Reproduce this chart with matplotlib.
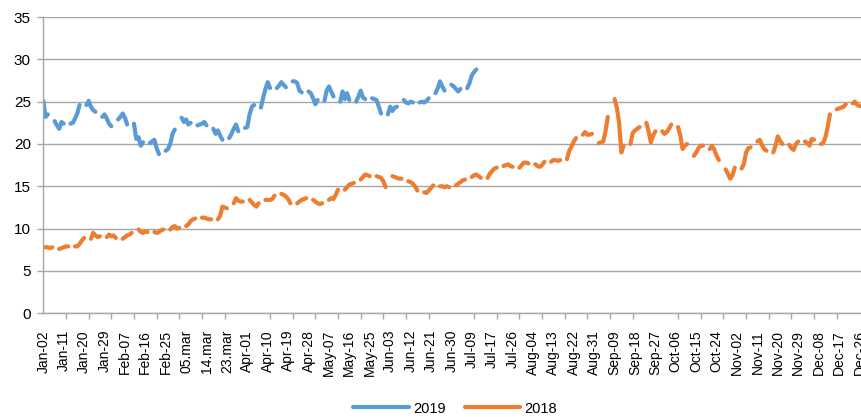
import numpy as np
import matplotlib.pyplot as plt

# x axis: one category per calendar day, a label every 9th category
tick_labels = ["Jan-02", "Jan-11", "Jan-20", "Jan-29", "Feb-07", "Feb-16", "Feb-25",
               "05.mar", "14.mar", "23.mar", "Apr-01", "Apr-10", "Apr-19", "Apr-28",
               "May-07", "May-16", "May-25", "Jun-03", "Jun-12", "Jun-21", "Jun-30",
               "Jul-09", "Jul-17", "Jul-26", "Aug-04", "Aug-13", "Aug-22", "Aug-31",
               "Sep-09", "Sep-18", "Sep-27", "Oct-06", "Oct-15", "Oct-24", "Nov-02",
               "Nov-11", "Nov-20", "Nov-29", "Dec-08", "Dec-17", "Dec-26"]

# weekday values, one row per week (weekends are blank in the source)
weeks_2019 = [
    [25.1, 23.2, 23.5],
    [22.7, 22.2, 21.8, 22.6, 22.4],
    [22.4, 22.5, 23.0, 23.6, 24.6],
    [24.6, 25.1, 24.4, 24.0, 23.8],
    [23.2, 23.5, 23.0, 22.4, 22.1],
    [22.9, 23.2, 23.6, 23.1, 22.3],
    [22.4, 20.6, 20.8, 19.8, 20.2],
    [20.1, 20.3, 20.5, 19.5, 18.8],
    [19.2, 19.4, 20.0, 21.2, 21.7],
    [23.1, 22.6, 22.9, 22.3, 22.5],
    [22.2, 22.3, 22.4, 22.6, 22.2],
    [21.8, 21.2, 21.6, 21.0, 20.5],
    [20.7, 21.2, 21.8, 22.3, 21.5],
    [21.9, 22.0, 23.5, 24.4, 24.6],
    [24.3, 25.5, 26.5, 27.3, 26.6],
    [26.6, 26.9, 27.3, 27.0, 26.7],
    [27.4, 27.4, 27.2, 26.3, 26.1],
    [26.2, 26.0, 25.4, 24.7, 25.2],
    [25.1, 26.3, 26.8, 26.2, 25.6],
    [25.0, 26.2, 25.3, 26.0, 25.2],
    [25.0, 25.6, 26.3, 25.5, 25.3],
    [25.4, 25.3, 25.2, 24.4, 23.6],
    [23.5, 24.4, 23.9, 24.3, 24.4],
    [25.2, 24.9, 24.8, 25.0, 24.9],
    [24.9, 25.0, 24.9, 25.1, 25.4],
    [26.0, 26.6, 27.4, 26.8, 26.3],
    [27.0, 26.8, 26.5, 26.2, 26.5],
    [26.6, 27.2, 28.1, 28.5, 28.8],
]
week_starts_2019 = [0] + [5 + 7 * k for k in range(len(weeks_2019) - 1)]

weeks_2018 = [
    [7.8, 7.8, 7.8, 7.7, 7.8],
    [7.6, 7.7, 7.8, 7.9, 7.9],
    [7.9, 7.9, 8.2, 8.6, 8.9],
    [8.8, 9.5, 9.2, 9.0, 9.1],
    [9.0, 9.3, 9.1, 9.2, 8.9],
    [8.8, 9.0, 9.2, 9.3, 9.5],
    [9.9, 9.6, 9.5, 9.7, 9.6],
    [9.6, 9.5, 9.6, 9.8, 9.9],
    [9.9, 10.2, 10.3, 10.0, 10.1],
    [10.3, 10.5, 10.9, 11.1, 11.2],
    [11.3, 11.3, 11.2, 11.1, 11.1],
    [11.1, 11.5, 12.6, 12.5, 12.4],
    [13.0, 13.6, 13.3, 13.2, 13.2],
    [13.4, 13.1, 12.8, 12.6, 13.0],
    [13.4, 13.4, 13.4, 13.5, 13.9],
    [14.1, 14.0, 13.8, 13.5, 13.0],
    [13.0, 13.2, 13.4, 13.5, 13.6],
    [13.4, 13.2, 13.0, 12.9, 13.0],
    [13.4, 13.6, 13.5, 14.0, 14.6],
    [14.6, 14.9, 15.2, 15.3, 15.4],
    [15.8, 16.1, 16.4, 16.3, 16.2],
    [16.2, 16.1, 16.0, 15.6, 14.9],
    [16.2, 16.1, 16.0, 15.9, 15.9],
    [15.6, 15.5, 15.3, 15.0, 14.5],
    [14.3, 14.2, 14.5, 14.8, 15.1],
    [15.0, 15.0, 14.9, 15.0, 14.9],
    [15.1, 15.3, 15.5, 15.7, 15.8],
    [16.1, 16.3, 16.4, 16.2, 16.0],
    [16.0, 16.5, 16.8, 17.1, 17.2],
    [17.4, 17.5, 17.6, 17.4, 17.3],
    [17.2, 17.5, 17.8, 17.8, 17.7],
    [17.6, 17.4, 17.3, 17.5, 17.9],
    [17.9, 18.1, 18.1, 18.0, 18.1],
    [18.2, 19.2, 19.7, 20.3, 20.7],
    [21.1, 21.4, 21.1, 21.1, 21.2],
    [20.1, 20.2, 20.3, 21.5, 23.2],
    [25.3, 24.3, 22.5, 19.0, 19.8],
    [20.0, 21.3, 21.6, 21.8, 22.0],
    [22.5, 21.5, 20.2, 21.0, 21.5],
    [21.5, 21.2, 21.4, 21.8, 22.3],
    [22.0, 21.0, 19.4, 19.8, 20.0],
    [18.6, 19.0, 19.5, 19.8, 19.8],
    [19.4, 19.8, 19.3, 18.6, 18.1],
    [17.0, 16.5, 15.9, 16.3, 17.2],
    [17.1, 17.6, 19.0, 19.5, 19.6],
    [20.3, 20.5, 19.9, 19.4, 19.2],
    [19.0, 19.8, 20.9, 20.4, 20.0],
    [19.9, 19.5, 19.3, 20.0, 20.3],
    [20.3, 20.1, 19.8, 20.6, 20.5],
    [20.0, 20.1, 20.8, 22.0, 23.5],
    [24.1, 24.2, 24.3, 24.4, 24.7],
    [24.8, 25.0, 24.6, 24.5, 24.5],
]
week_starts_2018 = [7 * k for k in range(len(weeks_2018))]

n_days = 362


def build_series(weeks, starts):
    y = np.full(n_days, np.nan)
    for s, vals in zip(starts, weeks):
        for j, v in enumerate(vals):
            if s + j < n_days:
                y[s + j] = v
    return y


y2019 = build_series(weeks_2019, week_starts_2019)
y2018 = build_series(weeks_2018, week_starts_2018)
x = np.arange(n_days)

plt.rcParams['font.family'] = ['Liberation Sans', 'DejaVu Sans']

fig = plt.figure(figsize=(8.62, 4.17), dpi=100)
ax = fig.add_axes([43.3 / 862, 1 - 313.3 / 417, 1 - 43.3 / 862, (313.3 - 17) / 417])

grid_c = '#a6a6a6'
ax.plot(x, y2019, color='#5b9bd5', lw=3.0, solid_capstyle='round',
        solid_joinstyle='round', label='2019')
ax.plot(x, y2018, color='#ed7d31', lw=3.0, solid_capstyle='round',
        solid_joinstyle='round', label='2018')

ax.set_ylim(0, 35)
ax.set_yticks(np.arange(0, 36, 5))
ax.set_xlim(0, (862 - 43.3) / 2.267)
ax.set_xticks(np.arange(len(tick_labels)) * 9)
ax.set_xticklabels(tick_labels, rotation=90, fontsize=10)
ax.set_xticks(np.arange(0, n_days, 10), minor=True)
ax.tick_params(axis='x', which='major', length=0, pad=12)
ax.tick_params(axis='x', which='minor', length=4, color=grid_c, width=1)
ax.tick_params(axis='y', length=4, color=grid_c, width=1, labelsize=11, pad=5)

ax.grid(axis='y', color=grid_c, lw=1)
ax.set_axisbelow(True)
for side in ['top', 'right']:
    ax.spines[side].set_visible(False)
for side in ['left', 'bottom']:
    ax.spines[side].set_color(grid_c)
    ax.spines[side].set_linewidth(1)

fig.legend(loc='lower center', bbox_to_anchor=(0.528, -0.028), ncol=2,
           frameon=False, fontsize=10.5, handlelength=3.8, columnspacing=1.3,
           handletextpad=0.3)

fig.savefig('out.png', dpi=100)
